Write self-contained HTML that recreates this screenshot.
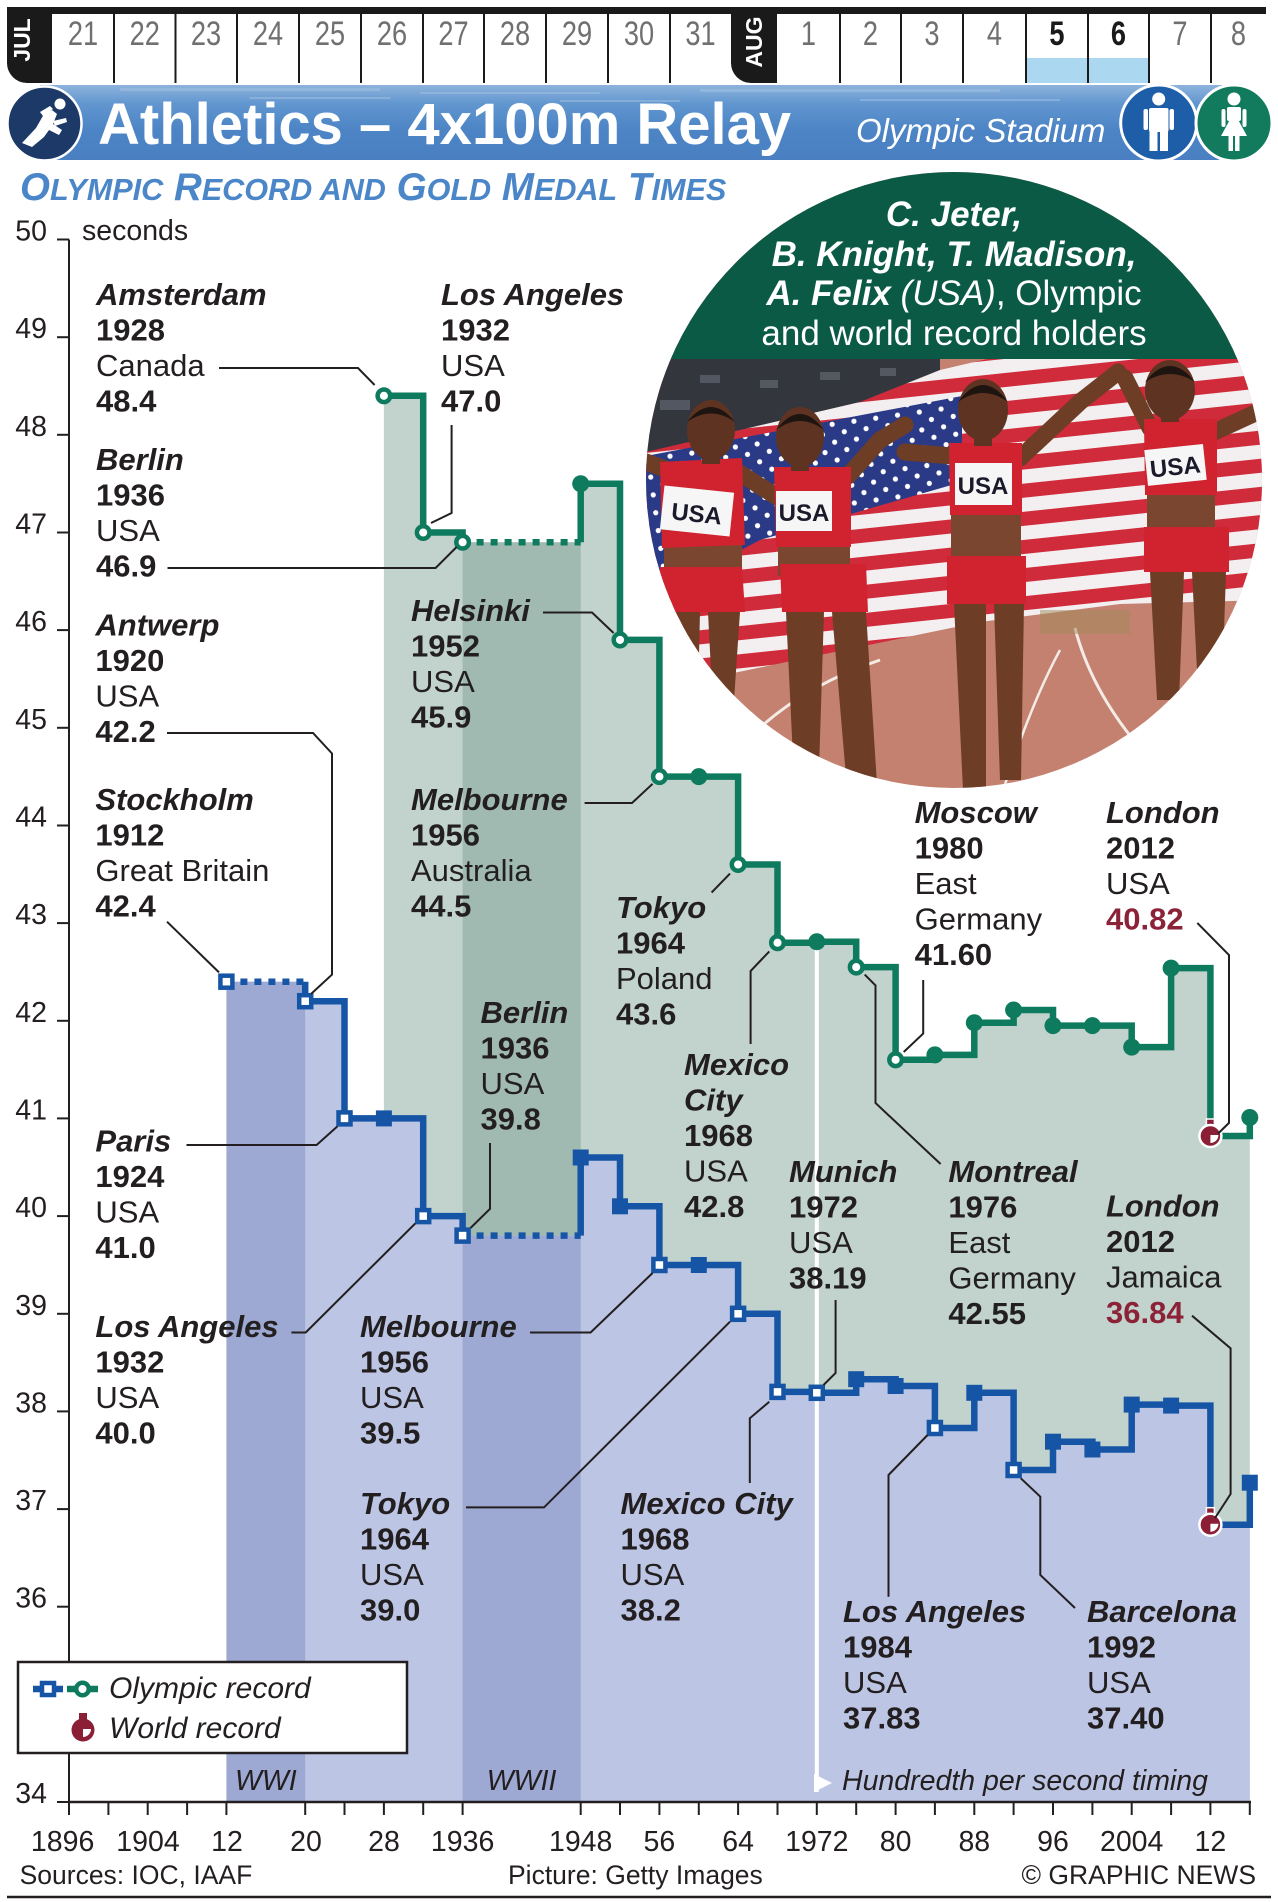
<!DOCTYPE html>
<html><head><meta charset="utf-8">
<style>
html,body{margin:0;padding:0;background:#fff;}
svg{display:block;}
text{font-family:"Liberation Sans",Arial,sans-serif;fill:#231f20;}
.lb{font-size:31px;}
.c{font-weight:bold;font-style:italic;}
.b{font-weight:bold;}
.ax{font-size:28.5px;}
.dt{font-size:34px;fill:#707070;}
.ft{font-size:26.5px;}
</style></head>
<body>
<svg width="1278" height="1902" viewBox="0 0 1278 1902" xmlns="http://www.w3.org/2000/svg">
<defs>
 <clipPath id="circ"><circle cx="954" cy="480" r="308"/></clipPath>
 <pattern id="stripes" patternUnits="userSpaceOnUse" width="60" height="28" patternTransform="rotate(-6)">
  <rect width="60" height="14" fill="#d02b3a"/><rect y="14" width="60" height="14" fill="#f3eef0"/>
 </pattern>
 <pattern id="stars" patternUnits="userSpaceOnUse" width="22" height="18" patternTransform="rotate(-8)">
  <rect width="22" height="18" fill="#2b3a86"/><circle cx="6" cy="5" r="2.6" fill="#fff"/><circle cx="17" cy="14" r="2.6" fill="#fff"/>
 </pattern>
 <linearGradient id="ban" x1="0" y1="0" x2="0" y2="1">
  <stop offset="0" stop-color="#8db3dc"/><stop offset="0.25" stop-color="#6196cf"/><stop offset="0.6" stop-color="#4c84c5"/><stop offset="1" stop-color="#4a80c2"/>
 </linearGradient>
 <clipPath id="menclip"><path d="M226.4,1802 V981.7 H305.2 V1001.2 H344.5 V1118.4 H423.2 V1216.1 H462.6 V1235.6 H580.7 V1157.5 H620 V1206.3 H659.4 V1265 H738.1 V1313.8 H777.5 V1391.9 H816.8 V1392.8 H856.2 V1379.2 H895.6 V1386 H934.9 V1428 H974.3 V1392.8 H1013.6 V1470 H1053 V1441.7 H1092.4 V1449.5 H1131.7 V1404.6 H1171.1 V1405.6 H1210.4 V1524.7 H1249.8 V1802 Z"/></clipPath>
 <clipPath id="womclip"><path d="M383.9,1802 V395.8 H423.2 V532.5 H462.6 V542.2 H580.7 V483.7 H620 V639.9 H659.4 V776.6 H738.1 V864.5 H777.5 V942.7 H816.8 V941.7 H856.2 V967.1 H895.6 V1059.8 H934.9 V1054.9 H974.3 V1022.7 H1013.6 V1010 H1053 V1025.6 H1131.7 V1047.1 H1171.1 V968.1 H1210.4 V1136 H1249.8 V1802 Z"/></clipPath>
</defs>

<!-- ===== HEADER DATE BAR ===== -->
<rect x="7" y="7" width="1259" height="7" fill="#1a1a1a"/>
<rect x="1026" y="58" width="123" height="25" fill="#acd7f0"/>
<g stroke="#1a1a1a" stroke-width="2">
 <line x1="114" y1="14" x2="114" y2="83"/><line x1="175.5" y1="14" x2="175.5" y2="83"/>
 <line x1="237" y1="14" x2="237" y2="83"/><line x1="299" y1="14" x2="299" y2="83"/>
 <line x1="361" y1="14" x2="361" y2="83"/><line x1="423" y1="14" x2="423" y2="83"/>
 <line x1="484" y1="14" x2="484" y2="83"/><line x1="546" y1="14" x2="546" y2="83"/>
 <line x1="608" y1="14" x2="608" y2="83"/><line x1="670" y1="14" x2="670" y2="83"/>
 <line x1="840" y1="14" x2="840" y2="83"/><line x1="901" y1="14" x2="901" y2="83"/>
 <line x1="963" y1="14" x2="963" y2="83"/><line x1="1026" y1="14" x2="1026" y2="83"/>
 <line x1="1088" y1="14" x2="1088" y2="83"/><line x1="1149" y1="14" x2="1149" y2="83"/>
 <line x1="1211" y1="14" x2="1211" y2="83"/>
</g>
<path d="M7,7 H52 V83 H27 A20,20 0 0 1 7,63 Z" fill="#1a1a1a"/>
<path d="M731,7 H777 V83 H751 A20,20 0 0 1 731,63 Z" fill="#1a1a1a"/>
<text transform="translate(30,40) rotate(-90)" text-anchor="middle" style="font-size:23px;font-weight:bold;fill:#fff">JUL</text>
<text transform="translate(762,42) rotate(-90)" text-anchor="middle" style="font-size:23px;font-weight:bold;fill:#fff">AUG</text>
<g class="dt" text-anchor="middle">
 <text class="dt" transform="translate(83,45) scale(0.8,1)">21</text>
 <text class="dt" transform="translate(144.8,45) scale(0.8,1)">22</text>
 <text class="dt" transform="translate(206,45) scale(0.8,1)">23</text>
 <text class="dt" transform="translate(268,45) scale(0.8,1)">24</text>
 <text class="dt" transform="translate(330,45) scale(0.8,1)">25</text>
 <text class="dt" transform="translate(392,45) scale(0.8,1)">26</text>
 <text class="dt" transform="translate(453.5,45) scale(0.8,1)">27</text>
 <text class="dt" transform="translate(515,45) scale(0.8,1)">28</text>
 <text class="dt" transform="translate(577,45) scale(0.8,1)">29</text>
 <text class="dt" transform="translate(639,45) scale(0.8,1)">30</text>
 <text class="dt" transform="translate(700.5,45) scale(0.8,1)">31</text>
 <text class="dt" transform="translate(808.5,45) scale(0.8,1)">1</text>
 <text class="dt" transform="translate(870.5,45) scale(0.8,1)">2</text>
 <text class="dt" transform="translate(932,45) scale(0.8,1)">3</text>
 <text class="dt" transform="translate(994.5,45) scale(0.8,1)">4</text>
 <text class="dt" transform="translate(1057,45) scale(0.8,1)" style="fill:#1a1a1a;font-weight:bold">5</text>
 <text class="dt" transform="translate(1118.5,45) scale(0.8,1)" style="fill:#1a1a1a;font-weight:bold">6</text>
 <text class="dt" transform="translate(1180,45) scale(0.8,1)">7</text>
 <text class="dt" transform="translate(1238.5,45) scale(0.8,1)">8</text>
</g>

<!-- ===== TITLE BANNER ===== -->
<rect x="40" y="85" width="1185" height="75" fill="url(#ban)"/>
<g fill="#a9c6e6" opacity="0.45">
 <rect x="120" y="88" width="260" height="3"/><rect x="420" y="92" width="180" height="2"/><rect x="700" y="89" width="300" height="3"/>
 <rect x="250" y="97" width="140" height="2"/><rect x="860" y="99" width="200" height="2"/><rect x="560" y="100" width="120" height="2"/>
</g>
<circle cx="44.5" cy="123.5" r="37" fill="#1c3968" stroke="#fff" stroke-width="2.5"/>
<g fill="#fff">
 <circle cx="60" cy="104" r="5.5"/>
 <path d="M22,143 L36,128 L44,114 L52,110 L57,114 L53,124 L62,130 L59,135 L49,130 L44,137 L32,147 Z"/>
 <path d="M40,112 L50,106 L53,109 L43,116 Z"/>
 <path d="M53,121 L66,118 L67,122 L55,126 Z"/>
</g>
<text x="98" y="144" style="font-size:58px;font-weight:bold;fill:#fff">Athletics – 4x100m Relay</text>
<text x="856" y="142" style="font-size:33px;font-style:italic;fill:#fff">Olympic Stadium</text>
<circle cx="1158.7" cy="123" r="38" fill="#1e5ea9" stroke="#fff" stroke-width="3"/>
<circle cx="1234" cy="123" r="38" fill="#137b5d" stroke="#fff" stroke-width="3"/>
<g fill="#fff">
 <circle cx="1158.7" cy="99" r="6.5"/>
 <rect x="1149" y="108" width="19.5" height="24" rx="2"/>
 <rect x="1143.5" y="109" width="4.5" height="21" rx="2"/>
 <rect x="1169.5" y="109" width="4.5" height="21" rx="2"/>
 <rect x="1149.5" y="131" width="8" height="20"/>
 <rect x="1160" y="131" width="8" height="20"/>
 <circle cx="1234" cy="99" r="6.5"/>
 <rect x="1227" y="107" width="14" height="14" rx="2"/>
 <path d="M1234,112 L1247,136 L1221,136 Z"/>
 <rect x="1221.5" y="109" width="4" height="18" rx="2"/>
 <rect x="1242.5" y="109" width="4" height="18" rx="2"/>
 <rect x="1228.5" y="135" width="4.5" height="16"/>
 <rect x="1235" y="135" width="4.5" height="16"/>
</g>

<!-- subtitle -->
<text x="20" y="200" style="font-weight:bold;font-style:italic;fill:#4a86c8;font-size:38.5px">O<tspan style="font-size:30.6px">LYMPIC</tspan> R<tspan style="font-size:30.6px">ECORD AND</tspan> G<tspan style="font-size:30.6px">OLD</tspan> M<tspan style="font-size:30.6px">EDAL</tspan> T<tspan style="font-size:30.6px">IMES</tspan></text>

<!-- ===== CHART FILLS ===== -->
<path d="M383.9,1802 V395.8 H423.2 V532.5 H462.6 V542.2 H580.7 V483.7 H620 V639.9 H659.4 V776.6 H738.1 V864.5 H777.5 V942.7 H816.8 V941.7 H856.2 V967.1 H895.6 V1059.8 H934.9 V1054.9 H974.3 V1022.7 H1013.6 V1010 H1053 V1025.6 H1131.7 V1047.1 H1171.1 V968.1 H1210.4 V1136 H1249.8 V1802 Z" fill="#c1d3cc"/>
<rect x="462.6" y="380" width="118.1" height="1422" fill="#a0bab2" clip-path="url(#womclip)"/>
<path d="M226.4,1802 V981.7 H305.2 V1001.2 H344.5 V1118.4 H423.2 V1216.1 H462.6 V1235.6 H580.7 V1157.5 H620 V1206.3 H659.4 V1265 H738.1 V1313.8 H777.5 V1391.9 H816.8 V1392.8 H856.2 V1379.2 H895.6 V1386 H934.9 V1428 H974.3 V1392.8 H1013.6 V1470 H1053 V1441.7 H1092.4 V1449.5 H1131.7 V1404.6 H1171.1 V1405.6 H1210.4 V1524.7 H1249.8 V1802 Z" fill="#bcc6e4"/>
<g clip-path="url(#menclip)" fill="#9da9d2">
 <rect x="226.4" y="960" width="78.8" height="842"/>
 <rect x="462.6" y="1150" width="118.1" height="652"/>
</g>

<!-- timing white line -->
<line x1="816.8" y1="950" x2="816.8" y2="1792" stroke="#fff" stroke-width="4"/>
<path d="M814,1774 L832,1783 L814,1792 Z" fill="#fff"/>
<text x="842" y="1790" style="font-size:28.5px;font-style:italic">Hundredth per second timing</text>
<text x="265.8" y="1790" text-anchor="middle" style="font-size:28.5px;font-style:italic">WWI</text>
<text x="521.6" y="1790" text-anchor="middle" style="font-size:28.5px;font-style:italic">WWII</text>

<!-- ===== PHOTO CIRCLE ===== -->
<g clip-path="url(#circ)">
 <rect x="640" y="160" width="640" height="650" fill="#c4816f"/>
 <rect x="640" y="355" width="300" height="110" fill="#34363d"/>
 <g fill="#6a6f7a" opacity="0.6"><rect x="700" y="375" width="20" height="8"/><rect x="760" y="380" width="18" height="8"/><rect x="820" y="372" width="20" height="8"/><rect x="880" y="368" width="16" height="8"/><rect x="660" y="400" width="30" height="10"/></g>
 <polygon points="646,452 860,402 940,370 1000,356 1270,356 1270,600 1120,604 980,622 820,655 700,680 646,690" fill="url(#stripes)"/>
 <polygon points="646,456 962,396 962,482 760,540 646,600" fill="url(#stars)"/>
 <path d="M700,800 Q760,700 880,660" stroke="#f4ebe7" stroke-width="3" fill="none"/>
 <path d="M1075,628 Q1095,705 1165,775" stroke="#f4ebe7" stroke-width="3" fill="none"/>
 <path d="M1000,800 Q1030,705 1060,650" stroke="#f4ebe7" stroke-width="2.5" fill="none"/>
 <rect x="1040" y="610" width="90" height="24" fill="#a08a5a" opacity="0.5"/>
 <!-- athletes legs -->
 <g fill="#6e3d26">
  <polygon points="670,612 700,612 697,740 678,740"/>
  <polygon points="708,612 740,612 732,730 714,730"/>
  <polygon points="786,612 824,612 818,800 795,800"/>
  <polygon points="832,612 866,612 878,800 848,800"/>
  <polygon points="954,604 986,604 986,790 963,790"/>
  <polygon points="994,604 1024,604 1021,780 1000,780"/>
  <polygon points="1150,572 1184,572 1179,700 1157,700"/>
  <polygon points="1192,572 1226,572 1222,690 1198,690"/>
 </g>
 <!-- arms -->
 <g stroke="#6e3d26" stroke-width="17" stroke-linecap="round" fill="none">
  <polyline points="668,470 646,462"/>
  <polyline points="738,472 782,500"/>
  <polyline points="848,476 880,440 905,425"/>
  <polyline points="952,456 905,452"/>
  <polyline points="1020,458 1080,402 1118,372"/>
  <polyline points="1150,428 1125,378"/>
  <polyline points="1214,432 1262,410"/>
 </g>
 <!-- abs -->
 <g fill="#7a4630">
  <rect x="664" y="540" width="78" height="32"/>
  <rect x="778" y="542" width="72" height="34"/>
  <rect x="951" y="510" width="70" height="48"/>
  <rect x="1147" y="490" width="68" height="40"/>
 </g>
 <!-- uniforms -->
 <g fill="#d0222f">
  <polygon points="660,462 742,458 745,545 662,548"/>
  <polygon points="660,567 742,567 745,612 660,612"/>
  <polygon points="774,467 851,467 851,547 776,547"/>
  <polygon points="780,564 866,564 868,612 782,612"/>
  <polygon points="949,443 1022,443 1022,515 950,515"/>
  <polygon points="947,556 1026,556 1026,604 947,604"/>
  <polygon points="1144,419 1217,419 1217,495 1145,495"/>
  <polygon points="1144,527 1229,527 1229,572 1144,572"/>
 </g>
 <!-- bibs -->
 <g fill="#f6f6f6">
  <rect x="662" y="489" width="70" height="44" transform="rotate(6,697,511)"/>
  <rect x="776" y="491" width="56" height="40"/>
  <rect x="955" y="463" width="57" height="42"/>
  <rect x="1146" y="447" width="59" height="36" transform="rotate(-6,1175,465)"/>
 </g>
 <g style="font-weight:bold;font-size:24px" text-anchor="middle">
  <text x="697" y="522" transform="rotate(6,697,511)" style="fill:#1a1a2a">USA</text>
  <text x="804" y="521" style="fill:#1a1a2a">USA</text>
  <text x="983" y="494" style="fill:#1a1a2a">USA</text>
  <text x="1175" y="475" transform="rotate(-6,1175,465)" style="fill:#1a1a2a">USA</text>
 </g>
 <!-- heads -->
 <g fill="#5e3322">
  <rect x="702" y="440" width="18" height="24"/><rect x="791" y="447" width="18" height="24"/>
  <rect x="974" y="420" width="18" height="26"/><rect x="1161" y="400" width="18" height="22"/>
  <ellipse cx="711" cy="430" rx="24" ry="30"/>
  <ellipse cx="800" cy="437" rx="24" ry="30"/>
  <ellipse cx="983" cy="410" rx="25" ry="31"/>
  <ellipse cx="1170" cy="390" rx="25" ry="30"/>
 </g>
 <g fill="#1e1410">
  <path d="M687,422 Q711,392 735,422 Q711,405 687,422 Z"/>
  <path d="M776,430 Q800,398 824,430 Q800,412 776,430 Z"/>
  <path d="M958,402 Q983,368 1008,402 Q983,384 958,402 Z"/>
  <path d="M1145,382 Q1170,350 1195,382 Q1170,366 1145,382 Z"/>
 </g>
 <rect x="640" y="160" width="640" height="199" fill="#0b5a45"/>
</g>
<text x="954" y="226" text-anchor="middle" style="font-size:35px;font-weight:bold;font-style:italic;fill:#fff">C. Jeter,</text>
<text x="954" y="266" text-anchor="middle" style="font-size:35px;font-weight:bold;font-style:italic;fill:#fff">B. Knight, T. Madison,</text>
<text x="954" y="305" text-anchor="middle" style="font-size:35px;fill:#fff"><tspan style="font-weight:bold;font-style:italic;fill:#fff">A. Felix</tspan><tspan style="font-style:italic;fill:#fff"> (USA)</tspan>, Olympic</text>
<text x="954" y="345" text-anchor="middle" style="font-size:35px;fill:#fff">and world record holders</text>

<!-- ===== SERIES LINES ===== -->
<g fill="none" stroke-width="6.5">
 <path d="M383.9,395.8 H423.2 V532.5 H462.6 V542.2" stroke="#0e7a5e"/>
 <path d="M462.6,542.2 H580.7" stroke="#0e7a5e" stroke-dasharray="7 7"/>
 <path d="M580.7,542.2 V483.7 H620 V639.9 H659.4 V776.6 H738.1 V864.5 H777.5 V942.7 H816.8 V941.7 H856.2 V967.1 H895.6 V1059.8 H934.9 V1054.9 H974.3 V1022.7 H1013.6 V1010 H1053 V1025.6 H1131.7 V1047.1 H1171.1 V968.1 H1210.4 V1136 H1249.8 V1117.5" stroke="#0e7a5e"/>
 <path d="M226.4,981.7 H305.2" stroke="#1655a5" stroke-dasharray="7 7"/>
 <path d="M305.2,981.7 V1001.2 H344.5 V1118.4 H423.2 V1216.1 H462.6 V1235.6" stroke="#1655a5"/>
 <path d="M462.6,1235.6 H580.7" stroke="#1655a5" stroke-dasharray="7 7"/>
 <path d="M580.7,1235.6 V1157.5 H620 V1206.3 H659.4 V1265 H738.1 V1313.8 H777.5 V1391.9 H816.8 V1392.8 H856.2 V1379.2 H895.6 V1386 H934.9 V1428 H974.3 V1392.8 H1013.6 V1470 H1053 V1441.7 H1092.4 V1449.5 H1131.7 V1404.6 H1171.1 V1405.6 H1210.4 V1524.7 H1249.8 V1482.7" stroke="#1655a5"/>
</g>
<!-- women markers -->
<g fill="#fff" stroke="#0e7a5e" stroke-width="4.5">
 <circle cx="383.9" cy="395.8" r="6.3"/><circle cx="423.2" cy="532.5" r="6.3"/><circle cx="462.6" cy="542.2" r="6.3"/>
 <circle cx="620" cy="639.9" r="6.3"/><circle cx="659.4" cy="776.6" r="6.3"/><circle cx="738.1" cy="864.5" r="6.3"/>
 <circle cx="777.5" cy="942.7" r="6.3"/><circle cx="856.2" cy="967.1" r="6.3"/><circle cx="895.6" cy="1059.8" r="6.3"/>
</g>
<g fill="#0e7a5e">
 <circle cx="580.7" cy="483.7" r="8.5"/><circle cx="698.8" cy="776.6" r="8.5"/><circle cx="816.8" cy="941.7" r="8.5"/>
 <circle cx="934.9" cy="1054.9" r="8.5"/><circle cx="974.3" cy="1022.7" r="8.5"/><circle cx="1013.6" cy="1010" r="8.5"/>
 <circle cx="1053" cy="1025.6" r="8.5"/><circle cx="1092.4" cy="1025.6" r="8.5"/><circle cx="1131.7" cy="1047.1" r="8.5"/>
 <circle cx="1171.1" cy="968.1" r="8.5"/><circle cx="1249.8" cy="1117.5" r="8.5"/>
</g>
<!-- men markers -->
<g fill="#fff" stroke="#1655a5" stroke-width="4.5">
 <rect x="220.4" y="975.7" width="12" height="12"/><rect x="299.2" y="995.2" width="12" height="12"/>
 <rect x="338.5" y="1112.4" width="12" height="12"/><rect x="417.2" y="1210.1" width="12" height="12"/>
 <rect x="456.6" y="1229.6" width="12" height="12"/><rect x="653.4" y="1259" width="12" height="12"/>
 <rect x="732.1" y="1307.8" width="12" height="12"/><rect x="771.5" y="1385.9" width="12" height="12"/>
 <rect x="810.8" y="1386.8" width="12" height="12"/><rect x="928.9" y="1422" width="12" height="12"/>
 <rect x="1007.6" y="1464" width="12" height="12"/>
</g>
<g fill="#1655a5">
 <rect x="375.9" y="1110.4" width="16" height="16"/><rect x="572.7" y="1149.5" width="16" height="16"/>
 <rect x="612" y="1198.3" width="16" height="16"/><rect x="690.8" y="1257" width="16" height="16"/>
 <rect x="848.2" y="1371.2" width="16" height="16"/><rect x="887.6" y="1378" width="16" height="16"/>
 <rect x="966.3" y="1384.8" width="16" height="16"/><rect x="1045" y="1433.7" width="16" height="16"/>
 <rect x="1084.4" y="1441.5" width="16" height="16"/><rect x="1123.7" y="1396.6" width="16" height="16"/>
 <rect x="1163.1" y="1397.6" width="16" height="16"/><rect x="1241.8" y="1474.7" width="16" height="16"/>
</g>
<!-- world record markers -->
<g transform="translate(1210.4,1136)">
 <rect x="-4" y="-17" width="8" height="7" fill="#8b1f35" stroke="#fff" stroke-width="1.5"/>
 <circle r="11" fill="#8b1f35" stroke="#fff" stroke-width="2.5"/>
 <path d="M0,-1 H8 A8,8 0 0 1 0,7 Z" fill="#fff"/>
</g>
<g transform="translate(1210.4,1524.7)">
 <rect x="-4" y="-17" width="8" height="7" fill="#8b1f35" stroke="#fff" stroke-width="1.5"/>
 <circle r="11" fill="#8b1f35" stroke="#fff" stroke-width="2.5"/>
 <path d="M0,-1 H8 A8,8 0 0 1 0,7 Z" fill="#fff"/>
</g>

<!-- ===== LEADER LINES ===== -->
<g fill="none" stroke="#231f20" stroke-width="2">
 <polyline points="219,368 358,368 374.6,385"/>
 <polyline points="451.6,425 451.6,513 431,523"/>
 <polyline points="167.5,568 435.6,568 456.6,547"/>
 <polyline points="167,733 313,733 332,753.5 332,974.6 311,994"/>
 <polyline points="167,921.7 219,972.4"/>
 <polyline points="186.5,1145 316.6,1145 337.4,1126.4"/>
 <polyline points="543,612.5 592,612.5 613.6,633"/>
 <polyline points="584.6,803 632,803 652.6,783.8"/>
 <polyline points="490,1143 490,1208.8 470.5,1228"/>
 <polyline points="291.4,1332.5 305.7,1332.5 415.4,1223.3"/>
 <polyline points="530,1332.5 590.6,1332.5 652.6,1273"/>
 <polyline points="466,1507.4 544,1507.4 730,1321.7"/>
 <polyline points="711.6,892.5 730,873.6"/>
 <polyline points="750.6,1044 750.6,971 769.3,951.4"/>
 <polyline points="835.6,1300 835.6,1373 823.5,1385"/>
 <polyline points="940.6,1164 875.5,1103 875.5,985.4 864.7,974.6"/>
 <polyline points="923.2,980 923.2,1033.6 903.7,1052"/>
 <polyline points="1197.3,922.9 1229,955 1229,1122.9 1218,1133.6"/>
 <polyline points="1192,1315.7 1230.6,1348.4 1230.6,1494 1215,1518"/>
 <polyline points="749.8,1483 749.8,1418.3 769.3,1401.7"/>
 <polyline points="888.5,1596.7 888.5,1475 927.6,1435"/>
 <polyline points="1075,1608 1040.3,1575 1040.3,1496.7 1020.8,1478.3"/>
</g>

<!-- ===== LABELS ===== -->
<g class="lb">
 <text class="lb" x="96" y="305"><tspan class="c">Amsterdam</tspan><tspan x="96" dy="35.5" class="b">1928</tspan><tspan x="96" dy="35.5">Canada</tspan><tspan x="96" dy="35.5" class="b">48.4</tspan></text>
 <text class="lb" x="441" y="305"><tspan class="c">Los Angeles</tspan><tspan x="441" dy="35.5" class="b">1932</tspan><tspan x="441" dy="35.5">USA</tspan><tspan x="441" dy="35.5" class="b">47.0</tspan></text>
 <text class="lb" x="96" y="470"><tspan class="c">Berlin</tspan><tspan x="96" dy="35.5" class="b">1936</tspan><tspan x="96" dy="35.5">USA</tspan><tspan x="96" dy="35.5" class="b">46.9</tspan></text>
 <text class="lb" x="95.4" y="635.5"><tspan class="c">Antwerp</tspan><tspan x="95.4" dy="35.5" class="b">1920</tspan><tspan x="95.4" dy="35.5">USA</tspan><tspan x="95.4" dy="35.5" class="b">42.2</tspan></text>
 <text class="lb" x="411" y="621"><tspan class="c">Helsinki</tspan><tspan x="411" dy="35.5" class="b">1952</tspan><tspan x="411" dy="35.5">USA</tspan><tspan x="411" dy="35.5" class="b">45.9</tspan></text>
 <text class="lb" x="95.4" y="810"><tspan class="c">Stockholm</tspan><tspan x="95.4" dy="35.5" class="b">1912</tspan><tspan x="95.4" dy="35.5">Great Britain</tspan><tspan x="95.4" dy="35.5" class="b">42.4</tspan></text>
 <text class="lb" x="411" y="810"><tspan class="c">Melbourne</tspan><tspan x="411" dy="35.5" class="b">1956</tspan><tspan x="411" dy="35.5">Australia</tspan><tspan x="411" dy="35.5" class="b">44.5</tspan></text>
 <text class="lb" x="616" y="918"><tspan class="c">Tokyo</tspan><tspan x="616" dy="35.5" class="b">1964</tspan><tspan x="616" dy="35.5">Poland</tspan><tspan x="616" dy="35.5" class="b">43.6</tspan></text>
 <text class="lb" x="480.5" y="1023"><tspan class="c">Berlin</tspan><tspan x="480.5" dy="35.5" class="b">1936</tspan><tspan x="480.5" dy="35.5">USA</tspan><tspan x="480.5" dy="35.5" class="b">39.8</tspan></text>
 <text class="lb" x="684" y="1075"><tspan class="c">Mexico</tspan><tspan x="684" dy="35.5" class="c">City</tspan><tspan x="684" dy="35.5" class="b">1968</tspan><tspan x="684" dy="35.5">USA</tspan><tspan x="684" dy="35.5" class="b">42.8</tspan></text>
 <text class="lb" x="95.4" y="1151.6"><tspan class="c">Paris</tspan><tspan x="95.4" dy="35.5" class="b">1924</tspan><tspan x="95.4" dy="35.5">USA</tspan><tspan x="95.4" dy="35.5" class="b">41.0</tspan></text>
 <text class="lb" x="789" y="1182"><tspan class="c">Munich</tspan><tspan x="789" dy="35.5" class="b">1972</tspan><tspan x="789" dy="35.5">USA</tspan><tspan x="789" dy="35.5" class="b">38.19</tspan></text>
 <text class="lb" x="948.4" y="1182"><tspan class="c">Montreal</tspan><tspan x="948.4" dy="35.5" class="b">1976</tspan><tspan x="948.4" dy="35.5">East</tspan><tspan x="948.4" dy="35.5">Germany</tspan><tspan x="948.4" dy="35.5" class="b">42.55</tspan></text>
 <text class="lb" x="914.6" y="823"><tspan class="c">Moscow</tspan><tspan x="914.6" dy="35.5" class="b">1980</tspan><tspan x="914.6" dy="35.5">East</tspan><tspan x="914.6" dy="35.5">Germany</tspan><tspan x="914.6" dy="35.5" class="b">41.60</tspan></text>
 <text class="lb" x="1106" y="823"><tspan class="c">London</tspan><tspan x="1106" dy="35.5" class="b">2012</tspan><tspan x="1106" dy="35.5">USA</tspan><tspan x="1106" dy="35.5" class="b" style="fill:#8c2238">40.82</tspan></text>
 <text class="lb" x="1106" y="1216.4"><tspan class="c">London</tspan><tspan x="1106" dy="35.5" class="b">2012</tspan><tspan x="1106" dy="35.5">Jamaica</tspan><tspan x="1106" dy="35.5" class="b" style="fill:#8c2238">36.84</tspan></text>
 <text class="lb" x="95.4" y="1337"><tspan class="c">Los Angeles</tspan><tspan x="95.4" dy="35.5" class="b">1932</tspan><tspan x="95.4" dy="35.5">USA</tspan><tspan x="95.4" dy="35.5" class="b">40.0</tspan></text>
 <text class="lb" x="360" y="1337"><tspan class="c">Melbourne</tspan><tspan x="360" dy="35.5" class="b">1956</tspan><tspan x="360" dy="35.5">USA</tspan><tspan x="360" dy="35.5" class="b">39.5</tspan></text>
 <text class="lb" x="360" y="1514"><tspan class="c">Tokyo</tspan><tspan x="360" dy="35.5" class="b">1964</tspan><tspan x="360" dy="35.5">USA</tspan><tspan x="360" dy="35.5" class="b">39.0</tspan></text>
 <text class="lb" x="620.5" y="1514"><tspan class="c">Mexico City</tspan><tspan x="620.5" dy="35.5" class="b">1968</tspan><tspan x="620.5" dy="35.5">USA</tspan><tspan x="620.5" dy="35.5" class="b">38.2</tspan></text>
 <text class="lb" x="843" y="1622"><tspan class="c">Los Angeles</tspan><tspan x="843" dy="35.5" class="b">1984</tspan><tspan x="843" dy="35.5">USA</tspan><tspan x="843" dy="35.5" class="b">37.83</tspan></text>
 <text class="lb" x="1087" y="1622"><tspan class="c">Barcelona</tspan><tspan x="1087" dy="35.5" class="b">1992</tspan><tspan x="1087" dy="35.5">USA</tspan><tspan x="1087" dy="35.5" class="b">37.40</tspan></text>
</g>

<!-- ===== AXES ===== -->
<g stroke="#231f20" stroke-width="2">
 <line x1="69" y1="239.5" x2="69" y2="1803"/>
 <line x1="68" y1="1802" x2="1251" y2="1802" stroke-width="2.5"/>
 <line x1="57" y1="239.5" x2="69" y2="239.5"/><line x1="57" y1="337.2" x2="69" y2="337.2"/>
 <line x1="57" y1="434.8" x2="69" y2="434.8"/><line x1="57" y1="532.5" x2="69" y2="532.5"/>
 <line x1="57" y1="630.1" x2="69" y2="630.1"/><line x1="57" y1="727.8" x2="69" y2="727.8"/>
 <line x1="57" y1="825.5" x2="69" y2="825.5"/><line x1="57" y1="923.1" x2="69" y2="923.1"/>
 <line x1="57" y1="1020.8" x2="69" y2="1020.8"/><line x1="57" y1="1118.4" x2="69" y2="1118.4"/>
 <line x1="57" y1="1216.1" x2="69" y2="1216.1"/><line x1="57" y1="1313.8" x2="69" y2="1313.8"/>
 <line x1="57" y1="1411.4" x2="69" y2="1411.4"/><line x1="57" y1="1509.1" x2="69" y2="1509.1"/>
 <line x1="57" y1="1606.7" x2="69" y2="1606.7"/><line x1="57" y1="1802" x2="69" y2="1802"/>
 <g>
  <line x1="69" y1="1802" x2="69" y2="1815"/><line x1="108.4" y1="1802" x2="108.4" y2="1815"/>
  <line x1="147.7" y1="1802" x2="147.7" y2="1815"/><line x1="187.1" y1="1802" x2="187.1" y2="1815"/>
  <line x1="226.4" y1="1802" x2="226.4" y2="1815"/><line x1="305.2" y1="1802" x2="305.2" y2="1815"/>
  <line x1="344.5" y1="1802" x2="344.5" y2="1815"/><line x1="383.9" y1="1802" x2="383.9" y2="1815"/>
  <line x1="423.2" y1="1802" x2="423.2" y2="1815"/><line x1="462.6" y1="1802" x2="462.6" y2="1815"/>
  <line x1="580.7" y1="1802" x2="580.7" y2="1815"/><line x1="620" y1="1802" x2="620" y2="1815"/>
  <line x1="659.4" y1="1802" x2="659.4" y2="1815"/><line x1="698.8" y1="1802" x2="698.8" y2="1815"/>
  <line x1="738.1" y1="1802" x2="738.1" y2="1815"/><line x1="777.5" y1="1802" x2="777.5" y2="1815"/>
  <line x1="816.8" y1="1802" x2="816.8" y2="1815"/><line x1="856.2" y1="1802" x2="856.2" y2="1815"/>
  <line x1="895.6" y1="1802" x2="895.6" y2="1815"/><line x1="934.9" y1="1802" x2="934.9" y2="1815"/>
  <line x1="974.3" y1="1802" x2="974.3" y2="1815"/><line x1="1013.6" y1="1802" x2="1013.6" y2="1815"/>
  <line x1="1053" y1="1802" x2="1053" y2="1815"/><line x1="1092.4" y1="1802" x2="1092.4" y2="1815"/>
  <line x1="1131.7" y1="1802" x2="1131.7" y2="1815"/><line x1="1171.1" y1="1802" x2="1171.1" y2="1815"/>
  <line x1="1210.4" y1="1802" x2="1210.4" y2="1815"/><line x1="1249.8" y1="1802" x2="1249.8" y2="1815"/>
 </g>
</g>
<g class="ax" text-anchor="end">
 <text class="ax" x="47" y="240.5">50</text><text class="ax" x="47" y="338.2">49</text>
 <text class="ax" x="47" y="435.8">48</text><text class="ax" x="47" y="533.5">47</text>
 <text class="ax" x="47" y="631.1">46</text><text class="ax" x="47" y="728.8">45</text>
 <text class="ax" x="47" y="826.5">44</text><text class="ax" x="47" y="924.1">43</text>
 <text class="ax" x="47" y="1021.8">42</text><text class="ax" x="47" y="1119.4">41</text>
 <text class="ax" x="47" y="1217.1">40</text><text class="ax" x="47" y="1314.8">39</text>
 <text class="ax" x="47" y="1412.4">38</text><text class="ax" x="47" y="1510.1">37</text>
 <text class="ax" x="47" y="1607.7">36</text><text class="ax" x="47" y="1803">34</text>
</g>
<text class="ax" x="82" y="240">seconds</text>
<g text-anchor="middle">
 <text class="ax" x="62.6" y="1851">1896</text><text class="ax" x="148" y="1851">1904</text>
 <text class="ax" x="227" y="1851">12</text><text class="ax" x="306" y="1851">20</text>
 <text class="ax" x="384" y="1851">28</text><text class="ax" x="462.6" y="1851">1936</text>
 <text class="ax" x="580.7" y="1851">1948</text><text class="ax" x="659.4" y="1851">56</text>
 <text class="ax" x="738.1" y="1851">64</text><text class="ax" x="816.8" y="1851">1972</text>
 <text class="ax" x="895.6" y="1851">80</text><text class="ax" x="974.3" y="1851">88</text>
 <text class="ax" x="1053" y="1851">96</text><text class="ax" x="1131.7" y="1851">2004</text>
 <text class="ax" x="1210.4" y="1851">12</text>
</g>

<!-- ===== LEGEND ===== -->
<rect x="18" y="1662" width="389" height="91" fill="#fff" stroke="#231f20" stroke-width="2.5"/>
<line x1="33" y1="1689" x2="63" y2="1689" stroke="#1655a5" stroke-width="6.5"/>
<rect x="42" y="1683" width="12" height="12" fill="#fff" stroke="#1655a5" stroke-width="4.5"/>
<line x1="67" y1="1689" x2="98" y2="1689" stroke="#0e7a5e" stroke-width="6.5"/>
<circle cx="82.5" cy="1689" r="6.3" fill="#fff" stroke="#0e7a5e" stroke-width="4.5"/>
<text x="109" y="1698" style="font-size:30px;font-style:italic">Olympic record</text>
<g transform="translate(83,1730)">
 <rect x="-4" y="-17" width="8" height="7" fill="#8b1f35"/>
 <circle r="11.5" fill="#8b1f35"/>
 <path d="M0,-1 H8 A8,8 0 0 1 0,7 Z" fill="#fff"/>
</g>
<text x="109" y="1738" style="font-size:30px;font-style:italic">World record</text>

<!-- ===== FOOTER ===== -->
<text class="ft" x="19.6" y="1884">Sources: IOC, IAAF</text>
<text class="ft" x="508" y="1884">Picture: Getty Images</text>
<text class="ft" x="1256" y="1884" text-anchor="end">© GRAPHIC NEWS</text>
<line x1="7" y1="1897" x2="1271" y2="1897" stroke="#231f20" stroke-width="2.5"/>
</svg>
</body></html>
